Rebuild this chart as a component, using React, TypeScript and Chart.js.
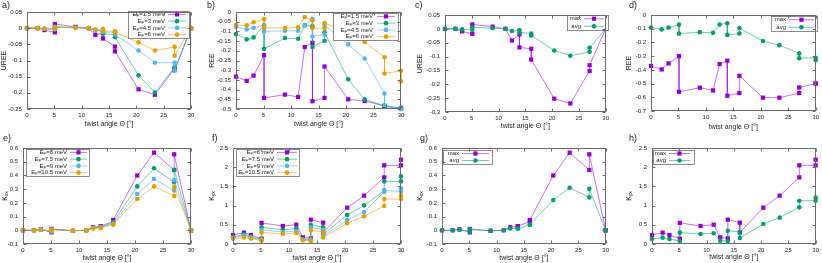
import React, { useEffect, useRef } from "react";
import { Chart, registerables } from "chart.js";

Chart.register(...registerables);

const FONT = '"Liberation Sans", Arial, Helvetica, sans-serif';

// ---------- data ----------
// twist angles in degrees (duplicated angles = distinct structures with the same angle)
const angles = [0, 1.95, 3.2, 5.1, 5.1, 8.9, 11.3, 12.5, 13.9, 13.9, 16.1, 16.1, 20.4, 23.4, 27.0, 27.0, 30, 30];
const xTicks = [0, 5, 10, 15, 20, 25, 30];

// a) UREE for several Fermi energies
const ureeEf15 = [0, 0, -0.006, -0.013, 0.013, 0.004, 0, -0.021, -0.015, -0.032, -0.057, -0.072, -0.189, -0.206, -0.125, -0.13, 0, 0];
const ureeEf3 = [0, 0, -0.002, -0.003, 0.005, 0.002, 0, -0.006, -0.01, -0.017, -0.02, -0.028, -0.146, -0.199, -0.121, -0.13, 0, 0];
const ureeEf45 = [0, 0, -0.002, -0.003, 0.003, 0.001, 0, -0.008, -0.005, -0.012, -0.013, -0.02, -0.069, -0.107, -0.107, -0.131, 0, 0];
const ureeEf6 = [0, 0, -0.002, -0.001, 0.003, 0.001, 0, -0.004, -0.002, -0.008, -0.01, -0.013, -0.044, -0.069, -0.058, -0.085, 0, 0];
const ureeTicksA = [0.05, 0, -0.05, -0.1, -0.15, -0.2, -0.25];

// b) REE for several Fermi energies
const reeEf15 = [-0.333, -0.355, -0.328, -0.222, -0.443, -0.426, -0.438, -0.181, -0.159, -0.46, -0.443, -0.281, -0.45, -0.459, -0.484, -0.486, -0.495, -0.497];
const reeEf3 = [-0.114, -0.141, -0.131, -0.069, -0.19, -0.134, -0.138, -0.069, -0.074, -0.181, -0.148, -0.105, -0.347, -0.45, -0.484, -0.486, -0.495, -0.497];
const reeEf45 = [-0.076, -0.09, -0.081, -0.069, -0.1, -0.097, -0.097, -0.067, -0.036, -0.126, -0.117, -0.067, -0.167, -0.24, -0.42, -0.48, -0.5, -0.5];
const reeEf6 = [-0.067, -0.069, -0.053, -0.036, -0.081, -0.083, -0.079, -0.026, -0.043, -0.084, -0.083, -0.057, -0.11, -0.155, -0.233, -0.317, -0.303, -0.357];
const reeTicksB = [0, -0.05, -0.1, -0.15, -0.2, -0.25, -0.3, -0.35, -0.4, -0.45, -0.5];

// c) UREE max / avg
const ureeMax = [0, 0, -0.009, -0.018, 0.016, 0.008, 0, -0.042, -0.02, -0.067, -0.072, -0.111, -0.252, -0.269, -0.152, -0.131, 0, 0];
const ureeAvg = [0, 0, -0.002, -0.003, 0.006, 0.002, 0, -0.008, -0.004, -0.013, -0.017, -0.024, -0.078, -0.097, -0.083, -0.068, 0, 0];
const ureeTicksC = [0.05, 0, -0.05, -0.1, -0.15, -0.2, -0.25, -0.3];

// d) REE max / avg
const reeMax = [-0.372, -0.397, -0.353, -0.3, -0.56, -0.53, -0.55, -0.358, -0.333, -0.589, -0.569, -0.443, -0.603, -0.603, -0.569, -0.528, -0.5, -0.5];
const reeAvg = [-0.092, -0.105, -0.092, -0.07, -0.136, -0.125, -0.13, -0.07, -0.06, -0.145, -0.135, -0.095, -0.19, -0.22, -0.28, -0.315, -0.312, -0.33];
const reeTicksD = [0, -0.1, -0.2, -0.3, -0.4, -0.5, -0.6, -0.7];

// e) K_xx for several Fermi energies
const kxxEf6 = [0, 0, 0.007, -0.015, 0.01, -0.004, 0, 0.022, 0.029, 0.03, 0.065, 0.075, 0.4, 0.566, 0.44, 0.554, 0, 0];
const kxxEf75 = [0, 0, 0.005, -0.01, 0.006, -0.003, 0, 0.018, 0.024, 0.025, 0.055, 0.06, 0.32, 0.452, 0.35, 0.44, 0, 0];
const kxxEf9 = [0, 0, 0.005, -0.008, 0.005, -0.003, 0, 0.016, 0.02, 0.022, 0.048, 0.05, 0.265, 0.374, 0.29, 0.367, 0, 0];
const kxxEf105 = [0, 0, 0.004, -0.006, 0.004, -0.002, 0, 0.013, 0.016, 0.018, 0.04, 0.045, 0.228, 0.32, 0.25, 0.315, 0, 0];
const kxxTicks = [-0.1, 0, 0.1, 0.2, 0.3, 0.4, 0.5, 0.6];

// f) K_yx for several Fermi energies
const kyxEf6 = [0.234, 0.295, 0.234, 0.14, 0.55, 0.469, 0.503, 0.174, 0.148, 0.634, 0.556, 0.3, 0.946, 1.259, 1.736, 2.049, 2.049, 2.196];
const kyxEf75 = [0.18, 0.25, 0.19, 0.12, 0.434, 0.37, 0.4, 0.13, 0.12, 0.503, 0.434, 0.25, 0.755, 1.007, 1.389, 1.632, 1.632, 1.762];
const kyxEf9 = [0.16, 0.22, 0.17, 0.11, 0.37, 0.31, 0.34, 0.11, 0.1, 0.43, 0.37, 0.21, 0.625, 0.833, 1.36, 1.39, 1.37, 1.45];
const kyxEf105 = [0.14, 0.17, 0.14, 0.09, 0.3, 0.26, 0.29, 0.1, 0.08, 0.36, 0.31, 0.17, 0.538, 0.72, 0.99, 1.172, 1.172, 1.259];
const kyxTicks = [0, 0.5, 1, 1.5, 2, 2.5];

// g) K_xx max / avg
const kxxMax = [0, 0, 0.007, -0.015, 0.01, -0.004, 0, 0.022, 0.029, 0.03, 0.065, 0.075, 0.4, 0.566, 0.44, 0.554, 0, 0];
const kxxAvg = [0, 0, 0.004, -0.008, 0.005, -0.003, 0, 0.013, 0.015, 0.012, 0.038, 0.042, 0.22, 0.31, 0.24, 0.302, 0, 0];

// h) K_yx max / avg
const kyxMax = [0.234, 0.295, 0.234, 0.14, 0.55, 0.469, 0.503, 0.174, 0.148, 0.634, 0.556, 0.3, 0.946, 1.259, 1.736, 2.049, 2.049, 2.196];
const kyxAvg = [0.13, 0.165, 0.13, 0.078, 0.295, 0.26, 0.278, 0.087, 0.078, 0.347, 0.313, 0.156, 0.52, 0.686, 0.955, 1.128, 1.128, 1.207];

const labelsEfLow = ["E_{F}=1.5 meV", "E_{F}=3 meV", "E_{F}=4.5 meV", "E_{F}=6 meV"];
const labelsEfHigh = ["E_{F}=6 meV", "E_{F}=7.5 meV", "E_{F}=9 meV", "E_{F}=10.5 meV"];
const labelsStat = ["max", "avg"];
const xTitle = "twist angle Θ [°]";

// ---------- styling ----------
const COLORS = ["#9400d3", "#009e73", "#56b4e9", "#e69f00"];
const LINE_COLORS = ["rgba(148,0,211,0.55)", "rgba(0,158,115,0.55)", "rgba(86,180,233,0.6)", "rgba(230,159,0,0.6)"];

type Box = [number, number, number, number];
interface PanelSpec {
  letter: string;
  canvas: Box; // x, y, w, h (absolute)
  area: Box; // l, t, r, b (absolute)
  yMin: number;
  yMax: number;
  yTicks: number[];
  yTitle: string;
  yTitleX: number;
  xTitleY: number;
  labelPos: [number, number];
  series: number[][];
  labels: string[];
  legend: { box: Box; textRight: number; sample: [number, number] };
}

const panels: PanelSpec[] = [
  {
    letter: "a)", canvas: [0, 0, 205, 131], area: [27, 12, 191, 109],
    yMin: -0.25, yMax: 0.05, yTicks: ureeTicksA, yTitle: "UREE", yTitleX: 4, xTitleY: 124, labelPos: [2, 1],
    series: [ureeEf15, ureeEf3, ureeEf45, ureeEf6], labels: labelsEfLow,
    legend: { box: [128, 11, 189, 38], textRight: 165, sample: [168, 186] },
  },
  {
    letter: "b)", canvas: [205, 0, 205, 131], area: [236, 12, 401, 109],
    yMin: -0.5, yMax: 0, yTicks: reeTicksB, yTitle: "REE", yTitleX: 212, xTitleY: 124, labelPos: [207, 1],
    series: [reeEf15, reeEf3, reeEf45, reeEf6], labels: labelsEfLow,
    legend: { box: [333, 13, 398, 40], textRight: 373, sample: [377, 395] },
  },
  {
    letter: "c)", canvas: [410, 0, 202, 131], area: [445, 15, 609, 112],
    yMin: -0.3, yMax: 0.05, yTicks: ureeTicksC, yTitle: "UREE", yTitleX: 420, xTitleY: 126, labelPos: [415, 1],
    series: [ureeMax, ureeAvg], labels: labelsStat,
    legend: { box: [567, 15, 608, 30], textRight: 581, sample: [584, 604] },
  },
  {
    letter: "d)", canvas: [612, 0, 210, 131], area: [651, 15, 819, 111],
    yMin: -0.7, yMax: 0, yTicks: reeTicksD, yTitle: "REE", yTitleX: 629, xTitleY: 127, labelPos: [629, 1],
    series: [reeMax, reeAvg], labels: labelsStat,
    legend: { box: [771, 16, 817, 31], textRight: 786, sample: [789, 814] },
  },
  {
    letter: "e)", canvas: [0, 131, 205, 132], area: [23, 148, 191, 244],
    yMin: -0.1, yMax: 0.6, yTicks: kxxTicks, yTitle: "K_{xx}", yTitleX: 5, xTitleY: 258, labelPos: [3, 134],
    series: [kxxEf6, kxxEf75, kxxEf9, kxxEf105], labels: labelsEfHigh,
    legend: { box: [26, 149, 89, 176], textRight: 67, sample: [70, 87] },
  },
  {
    letter: "f)", canvas: [205, 131, 205, 132], area: [233, 148, 401, 244],
    yMin: 0, yMax: 2.5, yTicks: kyxTicks, yTitle: "K_{yx}", yTitleX: 212, xTitleY: 258, labelPos: [212, 134],
    series: [kyxEf6, kyxEf75, kyxEf9, kyxEf105], labels: labelsEfHigh,
    legend: { box: [236, 149, 299, 176], textRight: 274, sample: [277, 297] },
  },
  {
    letter: "g)", canvas: [410, 131, 202, 132], area: [442, 148, 609, 244],
    yMin: -0.1, yMax: 0.6, yTicks: kxxTicks, yTitle: "K_{xx}", yTitleX: 420, xTitleY: 258, labelPos: [420, 134],
    series: [kxxMax, kxxAvg], labels: labelsStat,
    legend: { box: [443, 150, 492, 164], textRight: 459, sample: [462, 489] },
  },
  {
    letter: "h)", canvas: [612, 131, 210, 132], area: [652, 148, 819, 244],
    yMin: 0, yMax: 2.5, yTicks: kyxTicks, yTitle: "K_{yx}", yTitleX: 629, xTitleY: 257, labelPos: [629, 134],
    series: [kyxMax, kyxAvg], labels: labelsStat,
    legend: { box: [653, 150, 694, 164], textRight: 666, sample: [669, 690] },
  },
];

// ---------- helpers ----------
function fmt(v: number): string {
  return String(parseFloat(Number(v).toFixed(3)));
}

function parseRich(s: string) {
  const parts: { t: string; sub: boolean }[] = [];
  const re = /_\{([^}]*)\}/g;
  let last = 0;
  let m: RegExpExecArray | null;
  while ((m = re.exec(s))) {
    if (m.index > last) parts.push({ t: s.slice(last, m.index), sub: false });
    parts.push({ t: m[1], sub: true });
    last = re.lastIndex;
  }
  if (last < s.length) parts.push({ t: s.slice(last), sub: false });
  return parts;
}

function drawRich(ctx: CanvasRenderingContext2D, s: string, x: number, y: number, size: number, align: "left" | "right" | "center") {
  const parts = parseRich(s);
  const fN = `${size}px ${FONT}`;
  const fS = `${(size * 0.72).toFixed(2)}px ${FONT}`;
  let w = 0;
  for (const p of parts) {
    ctx.font = p.sub ? fS : fN;
    w += ctx.measureText(p.t).width;
  }
  let cx = align === "left" ? x : align === "right" ? x - w : x - w / 2;
  ctx.textAlign = "left";
  ctx.textBaseline = "middle";
  for (const p of parts) {
    ctx.font = p.sub ? fS : fN;
    ctx.fillText(p.t, cx, p.sub ? y + size * 0.28 : y);
    cx += ctx.measureText(p.t).width;
  }
}

function makeDecor(spec: PanelSpec) {
  const [cx, cy] = spec.canvas;
  return {
    id: "decor",
    afterDatasetsDraw(chart: any) {
      const ctx: CanvasRenderingContext2D = chart.ctx;
      const L = spec.legend;
      const bl = L.box[0] - cx, bt = L.box[1] - cy, br = L.box[2] - cx, bb = L.box[3] - cy;
      ctx.save();
      ctx.fillStyle = "#ffffff";
      ctx.fillRect(bl, bt, br - bl, bb - bt);
      ctx.strokeStyle = "#6f6f6f";
      ctx.lineWidth = 0.8;
      ctx.strokeRect(bl + 0.5, bt + 0.5, br - bl, bb - bt);
      const n = spec.labels.length;
      const rh = (bb - bt) / n;
      spec.labels.forEach((lab, i) => {
        const ry = bt + rh * (i + 0.5);
        ctx.fillStyle = "#222";
        drawRich(ctx, lab, L.textRight - cx, ry, 6, "right");
        ctx.strokeStyle = LINE_COLORS[i];
        ctx.lineWidth = 1;
        ctx.beginPath();
        ctx.moveTo(L.sample[0] - cx, ry);
        ctx.lineTo(L.sample[1] - cx, ry);
        ctx.stroke();
        const mx = (L.sample[0] + L.sample[1]) / 2 - cx;
        ctx.fillStyle = COLORS[i];
        if (i === 0) {
          ctx.fillRect(mx - 2.1, ry - 2.1, 4.2, 4.2);
        } else {
          ctx.beginPath();
          ctx.arc(mx, ry, 2.3, 0, Math.PI * 2);
          ctx.fill();
        }
      });
      ctx.restore();
    },
    afterDraw(chart: any) {
      const ctx: CanvasRenderingContext2D = chart.ctx;
      const { left, right, top, bottom } = chart.chartArea;
      const xs = chart.scales.x;
      const ys = chart.scales.y;
      ctx.save();
      ctx.strokeStyle = "#6a6a6a";
      ctx.lineWidth = 1;
      const l = Math.round(left) + 0.5, r = Math.round(right) - 0.5, t = Math.round(top) + 0.5, b = Math.round(bottom) - 0.5;
      ctx.strokeRect(l, t, r - l, b - t);
      ctx.beginPath();
      for (const tk of xs.ticks) {
        const px = Math.round(xs.getPixelForValue(tk.value)) + 0.5;
        ctx.moveTo(px, b);
        ctx.lineTo(px, b - 3);
        ctx.moveTo(px, t);
        ctx.lineTo(px, t + 3);
      }
      for (const tk of ys.ticks) {
        const py = Math.round(ys.getPixelForValue(tk.value)) + 0.5;
        ctx.moveTo(l, py);
        ctx.lineTo(l + 3, py);
        ctx.moveTo(r, py);
        ctx.lineTo(r - 3, py);
      }
      ctx.stroke();
      // axis titles
      ctx.fillStyle = "#222";
      drawRich(ctx, xTitle, (left + right) / 2, spec.xTitleY - cy, 7, "center");
      ctx.save();
      ctx.translate(spec.yTitleX - cx, (top + bottom) / 2);
      ctx.rotate(-Math.PI / 2);
      drawRich(ctx, spec.yTitle, 0, 0, 7, "center");
      ctx.restore();
      // panel label
      ctx.font = `9px ${FONT}`;
      ctx.textAlign = "left";
      ctx.textBaseline = "top";
      ctx.fillStyle = "#222";
      ctx.fillText(spec.letter, spec.labelPos[0] - cx, spec.labelPos[1] - cy);
      ctx.restore();
    },
  };
}

function buildConfig(spec: PanelSpec): any {
  const [cx, cy, cw, ch] = spec.canvas;
  const [al, at, ar, ab] = spec.area;
  const n = spec.series.length;
  const tickFont = { family: FONT, size: 6 };
  return {
    type: "scatter",
    data: {
      datasets: spec.series.map((vals, i) => ({
        label: spec.labels[i],
        data: angles.map((x, j) => ({ x, y: vals[j] })),
        showLine: true,
        borderColor: LINE_COLORS[i],
        borderWidth: 1,
        backgroundColor: COLORS[i],
        pointBackgroundColor: COLORS[i],
        pointBorderWidth: 0,
        pointRadius: i === 0 ? 3 : 2.3,
        pointStyle: i === 0 ? "rect" : "circle",
        order: n - 1 - i,
        clip: false,
      })),
    },
    options: {
      animation: false,
      responsive: false,
      maintainAspectRatio: false,
      devicePixelRatio: 1,
      events: [],
      layout: { padding: { left: 0, top: at - cy, right: cx + cw - ar, bottom: 0 } },
      plugins: { legend: { display: false }, tooltip: { enabled: false }, title: { display: false } },
      scales: {
        x: {
          type: "linear",
          min: 0,
          max: 30,
          afterBuildTicks: (s: any) => {
            s.ticks = xTicks.map((v) => ({ value: v }));
          },
          afterFit: (s: any) => {
            s.height = cy + ch - ab;
          },
          grid: { display: false, drawTicks: false },
          border: { display: false },
          ticks: { padding: 3, font: tickFont, color: "#222", maxRotation: 0, minRotation: 0, autoSkip: false, callback: (v: number) => fmt(v) },
        },
        y: {
          type: "linear",
          min: spec.yMin,
          max: spec.yMax,
          afterBuildTicks: (s: any) => {
            s.ticks = spec.yTicks.map((v) => ({ value: v }));
          },
          afterFit: (s: any) => {
            s.width = al - cx;
          },
          grid: { display: false, drawTicks: false },
          border: { display: false },
          ticks: { padding: 5, font: tickFont, color: "#222", autoSkip: false, callback: (v: number) => fmt(v) },
        },
      },
    },
    plugins: [makeDecor(spec)],
  };
}

function Panel({ spec }: { spec: PanelSpec }) {
  const ref = useRef<HTMLCanvasElement>(null);
  useEffect(() => {
    const canvas = ref.current;
    if (!canvas) return;
    const chart = new Chart(canvas, buildConfig(spec));
    return () => chart.destroy();
  }, [spec]);
  const [x, y, w, h] = spec.canvas;
  return (
    <canvas
      ref={ref}
      width={w}
      height={h}
      style={{ position: "absolute", left: x, top: y, width: w, height: h, display: "block" }}
    />
  );
}

export default function App() {
  return (
    <div style={{ position: "fixed", left: 0, top: 0, width: 822, height: 263, background: "#ffffff", overflow: "hidden" }}>
      {panels.map((p) => (
        <Panel key={p.letter} spec={p} />
      ))}
    </div>
  );
}
